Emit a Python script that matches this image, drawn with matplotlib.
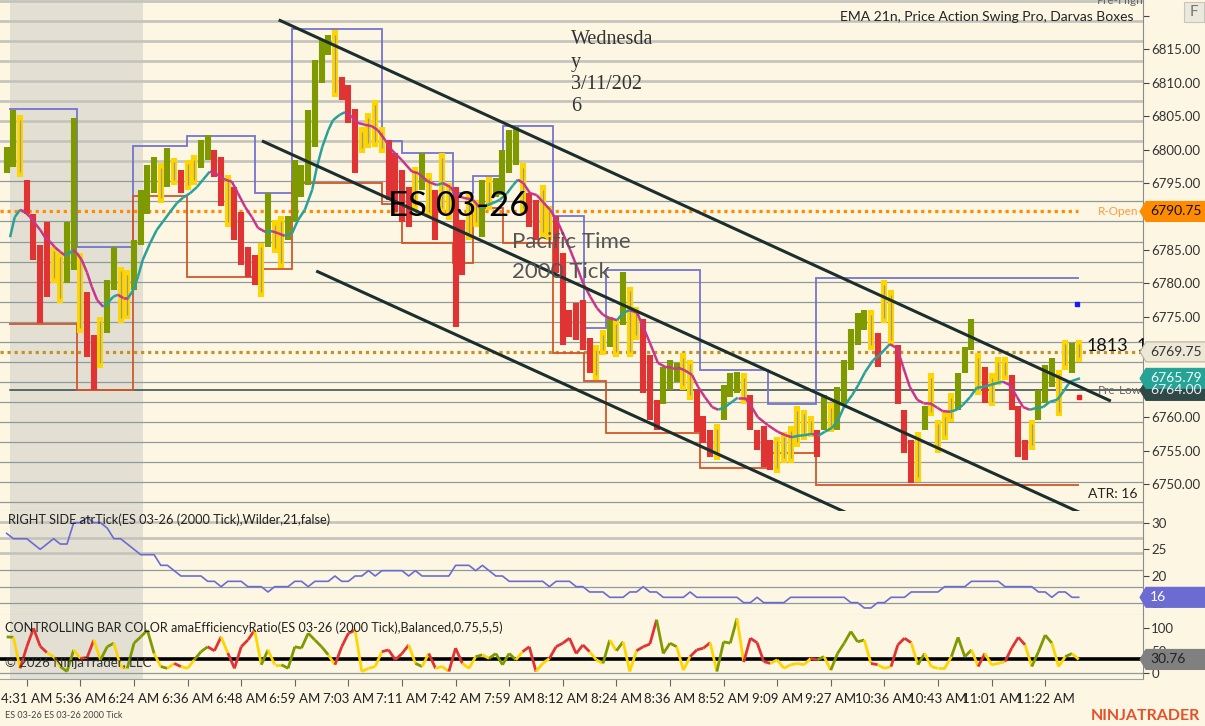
import matplotlib
matplotlib.use("Agg")
import matplotlib.pyplot as plt
from matplotlib.collections import LineCollection
from matplotlib.patches import Polygon, Rectangle
from matplotlib.transforms import IdentityTransform
import numpy as np

plt.rcParams['font.family'] = ['Lato', 'DejaVu Sans']

W, H = 1205, 726
BG = "#fdf6e3"

# ---- price bars (one entry per bar) ----
bar_high = [6800.4, 6805.9, 6805.2, 6795.5, 6790.3, 6785.8, 6789.2, 6785.5, 6784.6, 6789.1,
            6804.8, 6784.6, 6778.7, 6772.3, 6775.0, 6780.5, 6785.5, 6782.5, 6782.0, 6786.5,
            6794.0, 6797.7, 6798.9, 6798.0, 6800.3, 6798.8, 6797.0, 6798.5, 6799.2, 6801.5,
            6802.2, 6800.0, 6798.9, 6796.2, 6794.4, 6790.6, 6785.5, 6784.3, 6786.1, 6793.5,
            6789.5, 6790.0, 6790.0, 6798.5, 6797.7, 6805.9, 6813.4, 6816.4, 6817.2, 6817.9,
            6810.9, 6809.7, 6806.0, 6803.4, 6805.5, 6807.4, 6803.4, 6801.5, 6799.5, 6797.0,
            6794.4, 6797.4, 6799.5, 6796.5, 6794.0, 6799.5, 6795.0, 6794.4, 6789.5, 6793.5,
            6792.5, 6795.5, 6795.9, 6795.8, 6800.0, 6803.0, 6803.4, 6798.0, 6793.5, 6792.5,
            6794.7, 6791.5, 6790.0, 6784.6, 6776.0, 6777.1, 6777.5, 6771.9, 6770.8, 6773.0,
            6775.0, 6774.6, 6781.7, 6779.5, 6776.5, 6774.6, 6769.3, 6762.6, 6767.5, 6768.6,
            6768.1, 6769.6, 6768.6, 6764.1, 6760.1, 6758.1, 6758.9, 6764.8, 6766.6, 6766.8,
            6766.6, 6763.3, 6758.1, 6758.6, 6756.6, 6757.1, 6757.7, 6758.6, 6761.6, 6761.1,
            6760.1, 6758.1, 6763.3, 6762.1, 6764.5, 6768.6, 6773.1, 6775.6, 6776.0, 6776.0,
            6772.6, 6780.5, 6779.0, 6770.8, 6761.1, 6756.6, 6757.7, 6761.6, 6766.6, 6759.6,
            6760.7, 6763.6, 6766.6, 6770.5, 6774.6, 6769.6, 6767.5, 6766.6, 6769.0, 6769.0,
            6766.3, 6761.6, 6756.6, 6759.6, 6764.1, 6767.8, 6768.9, 6767.1, 6771.6, 6771.1,
            6771.6]
bar_low = [6796.5, 6797.4, 6795.9, 6790.3, 6783.5, 6774.1, 6778.0, 6780.1, 6777.1, 6780.1,
           6782.0, 6772.6, 6769.0, 6764.1, 6767.4, 6772.6, 6779.0, 6774.1, 6774.6, 6779.0,
           6785.8, 6790.3, 6793.5, 6792.0, 6794.4, 6794.7, 6793.5, 6794.0, 6794.7, 6797.3,
           6798.5, 6795.9, 6791.5, 6788.5, 6786.5, 6782.8, 6781.0, 6779.8, 6778.0, 6785.5,
           6784.6, 6782.3, 6786.5, 6789.1, 6792.9, 6794.7, 6800.4, 6810.0, 6814.2, 6807.9,
           6807.4, 6804.0, 6796.5, 6799.5, 6800.3, 6800.4, 6799.5, 6792.5, 6790.6, 6789.1,
           6788.5, 6791.0, 6794.0, 6790.0, 6786.5, 6790.6, 6789.5, 6773.4, 6781.3, 6786.5,
           6788.5, 6787.0, 6791.0, 6792.9, 6793.2, 6796.5, 6797.7, 6790.6, 6788.5, 6786.5,
           6787.0, 6786.5, 6781.6, 6770.8, 6772.0, 6771.6, 6770.1, 6766.6, 6765.6, 6769.3,
           6770.5, 6769.0, 6773.8, 6769.0, 6771.6, 6763.6, 6759.6, 6758.1, 6761.9, 6764.1,
           6765.3, 6764.1, 6762.6, 6757.7, 6756.2, 6754.1, 6753.6, 6759.6, 6763.0, 6763.6,
           6761.9, 6758.1, 6755.1, 6752.6, 6752.1, 6751.7, 6753.2, 6753.2, 6755.6, 6756.6,
           6757.1, 6754.1, 6758.1, 6757.7, 6758.1, 6761.9, 6767.1, 6770.8, 6773.0, 6770.1,
           6767.5, 6774.1, 6770.8, 6761.9, 6754.7, 6750.2, 6750.3, 6758.1, 6760.1, 6754.7,
           6756.6, 6759.2, 6761.1, 6766.6, 6770.1, 6763.3, 6762.1, 6761.6, 6764.8, 6765.6,
           6761.1, 6754.1, 6753.6, 6755.1, 6759.6, 6762.1, 6764.5, 6760.1, 6767.1, 6766.6,
           6768.3]
# g = trending up, r = trending down, y = no trend (efficiency ratio colouring)
bar_state = ("ggyrrrryyg" "gyrryggyyg" "gggygyryyg" "grryrrrryg" "yygggggggy"
             "rrryyyyrrr" "rygyryyrry" "ygyggggyrr" "yyrrrrrryy" "gygyyrrrgg"
             "gyyrrryggg" "yrrrryyyyy" "yrgygggggy" "ryyrrrygyy" "yygggyryyy"
             "rrrygggyyg" "y")

# ---- EMA 21 ----
ema_x = [0.5, 1.2, 2.0, 2.7, 3.5, 4.2, 5.0, 5.7, 6.5, 7.2,
         8.0, 8.7, 9.4, 9.9, 10.5, 11.2, 12.0, 12.7, 13.5, 14.4,
         15.1, 15.9, 16.6, 17.4, 18.1, 18.9, 19.6, 20.3, 21.4, 22.4,
         23.3, 24.4, 25.4, 26.3, 27.4, 28.4, 29.3, 30.3, 31.1, 32.6,
         33.6, 34.5, 35.6, 36.6, 37.5, 38.6, 39.6, 40.5, 41.5, 42.6,
         43.5, 44.5, 45.6, 46.3, 47.1, 48.0, 48.7, 49.7, 50.5, 51.5,
         52.4, 53.5, 54.5, 55.4, 56.5, 57.5, 59.0, 60.5, 61.4, 62.9,
         64.2, 65.1, 66.2, 67.2, 68.1, 69.6, 70.6, 71.7, 72.6, 73.6,
         74.7, 75.6, 76.3, 77.1, 78.1, 79.1, 80.0, 81.1, 82.1, 83.0,
         84.1, 85.1, 86.0, 87.1, 88.1, 89.0, 90.0, 91.1, 92.0, 93.0,
         94.1, 95.0, 96.0, 97.2, 98.3, 99.3, 100.2, 101.2, 102.3, 103.2,
         104.2, 105.3, 106.2, 107.2, 108.3, 109.1, 110.2, 111.2, 112.1, 113.6,
         115.1, 116.2, 117.2, 118.1, 119.1, 120.2, 121.1, 122.1, 123.2, 124.1,
         125.1, 126.2, 127.1, 128.1, 129.3, 130.3, 131.8, 132.9, 133.8, 134.8,
         135.9, 136.8, 137.8, 138.9, 139.7, 140.8, 141.8, 142.7, 143.8, 144.8,
         145.7, 146.8, 147.8, 148.7, 149.7, 150.8, 151.7, 152.7, 153.8, 154.7,
         155.7, 156.8, 157.7, 158.7, 160.2]
ema_val = [6786.9, 6789.9, 6791.0, 6790.7, 6789.9, 6789.0, 6788.0, 6786.9, 6786.2, 6785.4,
           6784.7, 6784.2, 6784.5, 6785.0, 6784.5, 6783.5, 6781.6, 6779.5, 6777.5, 6776.5,
           6777.1, 6778.0, 6778.3, 6777.8, 6777.8, 6779.0, 6781.0, 6783.5, 6786.0, 6788.0,
           6789.2, 6790.7, 6792.0, 6792.8, 6793.5, 6794.4, 6795.5, 6796.7, 6796.5, 6795.5,
           6795.2, 6793.5, 6791.4, 6789.9, 6788.3, 6787.7, 6787.8, 6787.5, 6787.1, 6787.5,
           6789.5, 6791.0, 6794.0, 6797.4, 6800.4, 6802.9, 6804.4, 6805.2, 6805.6, 6804.9,
           6804.0, 6803.7, 6803.5, 6802.9, 6801.4, 6799.9, 6798.4, 6796.7, 6796.5, 6795.2,
           6794.7, 6795.0, 6794.4, 6793.2, 6792.8, 6792.5, 6791.3, 6791.7, 6792.0, 6792.5,
           6793.5, 6794.7, 6795.5, 6795.0, 6793.5, 6793.2, 6792.2, 6791.0, 6789.5, 6787.5,
           6785.0, 6782.5, 6780.1, 6778.0, 6776.3, 6775.3, 6774.8, 6774.5, 6775.6, 6776.0,
           6775.6, 6773.5, 6771.1, 6768.1, 6767.5, 6767.4, 6767.4, 6767.0, 6766.3, 6764.5,
           6763.0, 6761.5, 6761.1, 6761.5, 6762.3, 6762.9, 6762.9, 6761.5, 6760.0, 6758.8,
           6757.8, 6757.3, 6757.0, 6757.2, 6757.3, 6757.5, 6757.2, 6757.8, 6758.4, 6759.6,
           6761.8, 6763.3, 6764.8, 6766.7, 6768.5, 6769.3, 6770.9, 6770.3, 6767.5, 6764.5,
           6762.6, 6762.1, 6762.1, 6761.4, 6760.9, 6760.8, 6761.1, 6761.8, 6763.0, 6764.4,
           6764.5, 6764.8, 6765.1, 6765.3, 6764.8, 6763.0, 6761.5, 6761.1, 6761.4, 6761.5,
           6762.3, 6762.6, 6763.8, 6765.3, 6765.8]

# ---- Darvas boxes ----
box_edges = [0.3, 10.5, 18.9, 26.9, 37.1, 42.6, 56.0, 59.0, 66.6, 69.6, 74.1,
             81.5, 86.2, 89.4, 103.5, 113.6, 120.8, 160.0]
box_tops = [6806.0, 6785.5, 6800.5, 6802.0, 6793.5, 6818.0, 6801.25, 6799.5, 6793.5,
            6796.0, 6803.5, 6790.0, 6773.25, 6782.0, 6767.0, 6762.0, 6780.75]
box_bottoms = [6773.9, 6764.1, 6793.1, 6781.0, 6782.1, 6795.0, 6791.9, 6786.0, 6783.0,
               6791.3, 6786.0, 6769.6, 6765.4, 6757.6, 6752.4, 6754.6, 6749.9]

# ---- channel lines (start bar, start price, end bar, end price) ----
channels = [(40.6, 6819.4, 164.8, 6762.4),
            (38.1, 6801.3, 162.0, 6744.9),
            (46.2, 6781.85, 126.0, 6745.4)]

r_open = 6790.75
last_price = 6769.75
pre_low = 6764.00
ema_last = 6765.79

# ---- ATR (ticks) and efficiency ratio, one per bar ----
atr = [28, 27, 27, 27, 26, 25, 26, 27, 26, 26,
       30, 30, 31, 30, 30, 29, 27, 27, 26, 25,
       24, 24, 24, 22, 22, 21, 20, 20, 20, 20,
       19, 19, 18, 19, 19, 19, 18, 18, 18, 17,
       18, 18, 18, 19, 19, 18, 19, 19, 19, 20,
       19, 19, 20, 20, 21, 20, 21, 21, 21, 21,
       20, 21, 20, 20, 20, 20, 20, 22, 22, 22,
       21, 22, 21, 20, 20, 19, 19, 19, 19, 19,
       19, 18, 19, 19, 19, 18, 18, 17, 17, 17,
       16, 16, 16, 17, 17, 18, 17, 17, 16, 16,
       16, 16, 17, 16, 16, 16, 16, 16, 16, 16,
       15, 15, 16, 15, 15, 15, 15, 16, 16, 16,
       16, 16, 16, 16, 16, 16, 15, 15, 14, 14,
       15, 15, 16, 16, 16, 17, 17, 17, 17, 17,
       18, 18, 18, 18, 19, 19, 19, 19, 19, 18,
       18, 18, 18, 18, 17, 17, 16, 17, 17, 16,
       16]
eff_ratio = [81, 80, 11, 59, 100, 60, 46, 37, 15, 4,
             52, 33, 35, 74, 30, 59, 67, 15, 11, 67,
             81, 96, 44, 15, 11, 22, 15, 11, 30, 48,
             59, 50, 81, 45, 11, 59, 74, 96, 19, 52,
             19, 19, 11, 59, 56, 89, 74, 59, 41, 19,
             59, 89, 96, 4, 11, 15, 48, 52, 30, 44,
             63, 22, 15, 44, 11, 15, 4, 56, 22, 11,
             37, 41, 33, 44, 19, 44, 30, 48, 59, 4,
             22, 33, 59, 67, 78, 44, 63, 48, 30, 22,
             74, 50, 70, 4, 50, 59, 65, 119, 44, 67,
             59, 7, 37, 52, 56, 68, 4, 70, 67, 122,
             25, 78, 68, 26, 22, 30, 11, 19, 22, 19,
             33, 30, 37, 7, 44, 67, 93, 70, 74, 22,
             19, 11, 15, 63, 78, 68, 19, 44, 15, 11,
             11, 37, 80, 37, 52, 15, 44, 19, 22, 26,
             56, 80, 63, 15, 48, 85, 67, 15, 37, 44,
             30.76]
er_last = 30.76
atr_last = 16

tick_bars = [3 + 8 * k for k in range(20)]
tick_labels = ["4:31 AM", "5:36 AM", "6:24 AM", "6:36 AM", "6:48 AM", "6:59 AM",
               "7:03 AM", "7:11 AM", "7:42 AM", "7:59 AM", "8:12 AM", "8:24 AM",
               "8:36 AM", "8:52 AM", "9:09 AM", "9:27 AM", "10:36 AM", "10:43 AM",
               "11:01 AM", "11:22 AM"]

state_color = {"g": "#7f9a00", "r": "#e03434", "y": "#ffd500"}
n = len(bar_high)
idx = np.arange(n)
cols = [state_color[s] for s in bar_state]

fig = plt.figure(figsize=(W / 100, H / 100), dpi=100, facecolor=BG)
axw = 1143 / W
ax = fig.add_axes([0, 1 - 511 / H, axw, 511 / H])
ax2 = fig.add_axes([0, 1 - 615 / H, axw, 104 / H], sharex=ax)
ax3 = fig.add_axes([0, 1 - 679 / H, axw, 64 / H], sharex=ax)

for a in (ax, ax2, ax3):
    a.set_facecolor(BG)
    a.spines['left'].set_visible(False)
    a.spines['top'].set_visible(False)
    a.spines['right'].set_color("#8a8a8a")
    a.spines['bottom'].set_color("#9aa3a3")
    a.yaxis.tick_right()
    a.tick_params(axis='y', direction='out', length=4, pad=2, labelsize=9.5,
                  colors="#444", labelcolor="#333")
    a.axvspan(0.49, 20.3, color="#e3e0d3", zorder=0, lw=0)

ax.set_xlim(-1, 169.6)
ax.set_ylim(6745.96, 6822.37)
ax2.set_ylim(12.68, 32.2)
ax3.set_ylim(-12.7, 129.6)

# main grid
for lv in np.arange(6747.25, 6823, 3.0):
    if lv > 6796:
        ax.axhline(lv, color="#c3c3bb", lw=1.9, zorder=1)
    else:
        ax.axhline(lv, color="#8f9b9b", lw=0.9, zorder=1)

ax.set_yticks(np.arange(6750, 6821, 5))
ax.set_yticklabels([f"{v:.2f}" if v < 6820 else "" for v in np.arange(6750, 6821, 5)])
ax.tick_params(axis='x', length=0, labelbottom=False)
ax2.tick_params(axis='x', length=0, labelbottom=False)

# watermark texts (behind the bars)
def ftext(x, y, s, **kw):
    return fig.text(x / W, 1 - y / H, s, **kw)

ftext(388, 206, "ES 03-26", fontsize=25, color="#000", va='center', zorder=0.5)
ftext(512, 242, "Pacific Time", fontsize=16, color="#555", va='center')
ftext(512, 272, "2000 Tick", fontsize=16, color="#555", va='center')
for k, s in enumerate(["Wednesda", "y", "3/11/202", "6"]):
    ftext(571, 40 + 22.3 * k, s, fontsize=14.5, color="#333", va='center',
          family=['Liberation Serif', 'DejaVu Serif'])

# dotted levels
ax.plot([-1, 159.9], [r_open, r_open], color="#ff8c00", lw=2.3, ls=(0, (1, 1.2)), zorder=3)
ax.plot([-1, 169.6], [last_price, last_price], color="#c0942a", lw=2.3, ls=(0, (1, 1.2)), zorder=3)
ax.plot([0.5, 169.6], [pre_low, pre_low], color="#2f4848", lw=1.1, zorder=3)

# darvas boxes
ax.stairs(box_tops, box_edges, baseline=None, color="#7474d0", lw=1.3, zorder=3)
ax.stairs(box_bottoms, box_edges, baseline=None, color="#d0572a", lw=1.3, zorder=3)

# bars
ax.vlines(idx, bar_low, bar_high, colors=cols, lw=4.4, zorder=4)
yb = [i for i in idx if bar_state[i] == "y"]
ax.vlines(yb, [bar_low[i] + 0.7 for i in yb], [bar_high[i] - 0.7 for i in yb],
          colors="#a09a80", lw=0.9, zorder=4.5)

# EMA coloured by slope
pts = np.column_stack([ema_x, ema_val])
segs = np.stack([pts[:-1], pts[1:]], axis=1)
ecol = ["#2aa198" if b > a else "#c8368c" for a, b in zip(ema_val[:-1], ema_val[1:])]
ax.add_collection(LineCollection(segs, colors=ecol, linewidths=1.8, zorder=5))

# channel lines
for x0, y0, x1, y1 in channels:
    ax.plot([x0, x1], [y0, y1], color="#1b2f2f", lw=2.2, zorder=6, solid_capstyle='butt')

ax.plot([159.8], [6776.9], 's', color="#1a1aff", ms=2.5, zorder=6)
ax.plot([160.0], [6763.0], 's', color="#ee2020", ms=2.5, zorder=6)

ax.text(162.8, r_open, "R-Open", color="#ff9a40", fontsize=8.5, va='center', zorder=7)
ax.text(162.8, pre_low, "Pre-Low", color="#666", fontsize=8.5, va='center', zorder=7)
ftext(1097, 0, "Pre-High", color="#666", fontsize=8.5, va='center')
ftext(1087, 346, "1813", color="#111", fontsize=13, va='center')
ftext(1137, 346, "1", color="#111", fontsize=13, va='center')
ftext(1088, 494, "ATR: 16", color="#222", fontsize=10, va='center')
ftext(1134, 17, "EMA 21n, Price Action Swing Pro, Darvas Boxes", color="#222",
      fontsize=10, va='center', ha='right')

# ATR panel
for lv in [30.2, 27.2, 24.25]:
    ax2.axhline(lv, color="#c3c3bb", lw=1.9, zorder=1)
for lv in [21.1, 18.0, 14.9]:
    ax2.axhline(lv, color="#8f9b9b", lw=0.9, zorder=1)
ax2.plot(idx, atr, color="#6b6bd2", lw=1.2, zorder=4)
ax2.set_yticks([15, 20, 25, 30])
ax2.text(0.2, 30.6, "RIGHT SIDE atrTick(ES 03-26 (2000 Tick),Wilder,21,false)",
         fontsize=9.2, color="#222", va='center', zorder=6)

# efficiency ratio panel
ax3.axhline(0, color="#8f9b9b", lw=0.9, zorder=1)
ax3.axhline(er_last, color="#000", lw=2.6, zorder=3)
ep = np.column_stack([idx, eff_ratio])
esegs = np.stack([ep[:-1], ep[1:]], axis=1)
ax3.add_collection(LineCollection(esegs, colors=cols[1:], linewidths=2.0, zorder=4))
ax3.set_yticks([0, 50, 100])
ax3.text(-0.3, 100.5, "CONTROLLING BAR COLOR amaEfficiencyRatio(ES 03-26 (2000 Tick),Balanced,0.75,5,5)",
         fontsize=9.1, color="#222", va='center', zorder=6)
ax3.text(-0.3, 22, "\u00a9 2026 NinjaTrader, LLC", fontsize=9.5, color="#333",
         va='center', zorder=6)
ax3.set_xticks(tick_bars)
ax3.set_xticklabels(tick_labels)
ax3.tick_params(axis='x', direction='out', length=5, pad=5, labelsize=9.5,
                colors="#666", labelcolor="#222")

# price tags on the right axis
def tag(a, val, txt, fc, tc, ec=None):
    y = a.transData.transform((0, val))[1]
    poly = Polygon([(1140, y), (1146, y + 10), (1206, y + 10), (1206, y - 10), (1146, y - 10)],
                   closed=True, facecolor=fc, edgecolor=ec or fc, lw=0.8,
                   transform=IdentityTransform(), zorder=8)
    fig.add_artist(poly)
    fig.text(1150, y, txt, color=tc, fontsize=10, va='center', ha='left',
             transform=IdentityTransform(), zorder=9)

tag(ax, r_open, f"{r_open:.2f}", "#ff8c00", "#111")
tag(ax, last_price, f"{last_price:.2f}", "#ede7d6", "#333", ec="#b8b2a0")
tag(ax, pre_low, f"{pre_low:.2f}", "#2f4848", "#eeeeee")
tag(ax, ema_last, f"{ema_last:.2f}", "#26a397", "#f4fffd")
tag(ax2, atr_last, f"{atr_last}", "#6b6bd2", "#ffffff")
tag(ax3, er_last, f"{er_last:.2f}", "#808080", "#222")

# F button and footer
fig.add_artist(Rectangle((1184 / W, 1 - 22 / H), 20 / W, 20 / H, transform=fig.transFigure,
                         facecolor="#ebe8dc", edgecolor="#c8c6bc", lw=0.8, zorder=8))
ftext(1194, 12, "F", color="#777", fontsize=11, ha='center', va='center', zorder=9)
ftext(5, 716, "ES 03-26 ES 03-26 2000 Tick", color="#444", fontsize=6.5, va='center')
ftext(1200, 716, "NINJATRADER", color="#e8502a", fontsize=11.5, fontweight='bold',
      ha='right', va='center')

fig.savefig("out.png", dpi=100, facecolor=BG)
